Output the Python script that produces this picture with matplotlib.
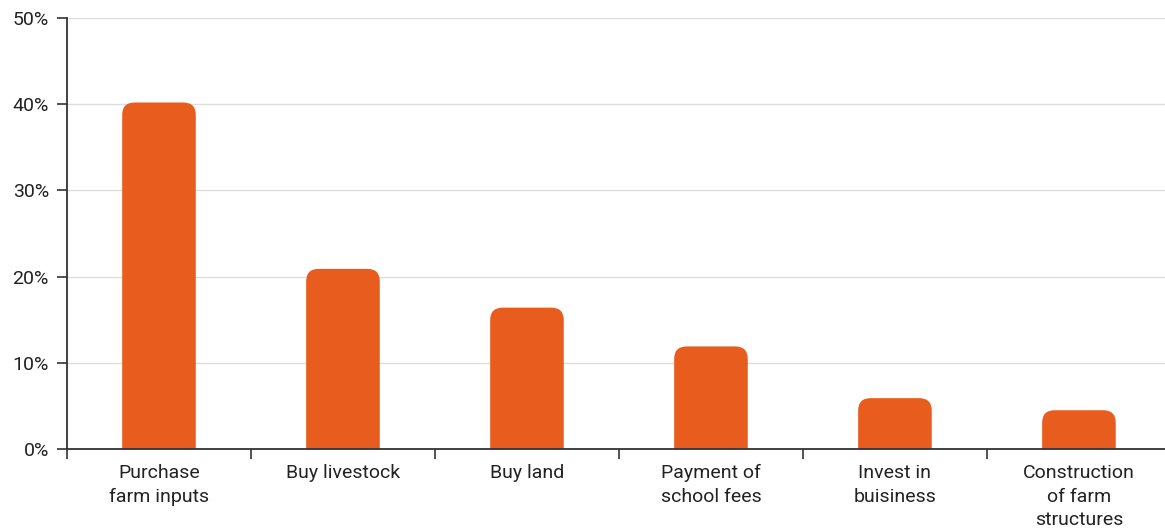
import matplotlib.pyplot as plt
from matplotlib.patches import FancyBboxPatch
from matplotlib.ticker import FixedLocator

categories = ['Purchase\nfarm inputs', 'Buy livestock', 'Buy land',
              'Payment of\nschool fees', 'Invest in\nbuisiness',
              'Construction\nof farm\nstructures']
values = [40.2, 20.9, 16.4, 11.9, 5.9, 4.5]
yticks = [0, 10, 20, 30, 40, 50]
ytick_labels = ['0%', '10%', '20%', '30%', '40%', '50%']

bar_color = '#E85C1D'
plt.rcParams['font.family'] = ['Roboto', 'DejaVu Sans']

fig = plt.figure(figsize=(11.65, 5.28), dpi=100)
ax = fig.add_axes([0.0575, 0.1496, 0.9476, 0.8163])

x = list(range(len(categories)))
ax.set_xlim(-0.5, len(categories) - 0.5)
ax.set_ylim(0, 50)

# rounded top corners, bottom hidden below the axis
bar_w = 0.40
px_x = 1104 / len(categories)
px_y = 431 / 50
aspect = px_x / px_y
for xi, v in zip(x, values):
    box = FancyBboxPatch((xi - bar_w / 2, -3), bar_w, v + 3,
                         boxstyle='round,pad=0,rounding_size=0.068',
                         mutation_aspect=aspect, facecolor=bar_color,
                         edgecolor='none', zorder=3)
    ax.add_patch(box)

ax.set_yticks(yticks)
ax.set_yticklabels(ytick_labels)
ax.set_xticks(x)
ax.set_xticklabels(categories, linespacing=1.38)
ax.xaxis.set_minor_locator(FixedLocator([i - 0.5 for i in range(len(categories) + 1)]))

ax.tick_params(axis='y', length=7, width=1.2, color='#333333', pad=6,
               labelsize=14, labelcolor='#222222')
ax.tick_params(axis='x', which='major', length=0, pad=11,
               labelsize=14, labelcolor='#222222')
ax.tick_params(axis='x', which='minor', length=7, width=1.2, color='#333333')

ax.grid(axis='y', color='#dddddd', linewidth=1, zorder=0)
ax.set_axisbelow(True)
for side in ['top', 'right']:
    ax.spines[side].set_visible(False)
for side in ['left', 'bottom']:
    ax.spines[side].set_color('#333333')
    ax.spines[side].set_linewidth(1.3)
    ax.spines[side].set_zorder(4)

fig.savefig('out.png', dpi=100)
